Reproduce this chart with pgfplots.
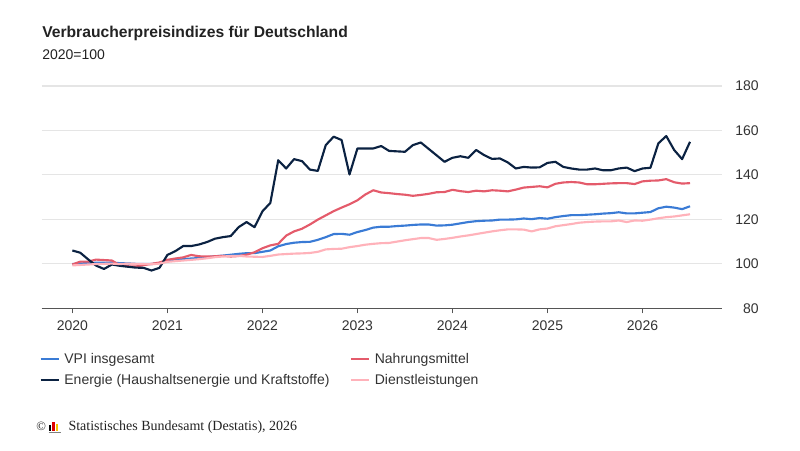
\documentclass[border=0pt]{standalone}
\usepackage{pgfplots}
\pgfplotsset{compat=1.18}
\usepackage{fontspec}
\setmainfont{Liberation Sans}
\newfontfamily\seriffont{Liberation Serif}
\definecolor{vpiblue}{HTML}{3A7BD5}
\definecolor{navy}{HTML}{0B2242}
\definecolor{foodred}{HTML}{E45B6B}
\definecolor{servpink}{HTML}{FFB2BA}
\definecolor{axisgray}{HTML}{555555}
\definecolor{gridgray}{HTML}{E5E5E5}
\definecolor{textdark}{HTML}{222222}
\definecolor{ticktext}{HTML}{333333}
\definecolor{logored}{HTML}{DD0000}
\definecolor{logoyellow}{HTML}{F5C400}
\newcommand\logo{\mbox{\rlap{\textcolor{gray}{\rule[-1.2pt]{9pt}{0.7pt}}}\textcolor{black}{\rule{1.6pt}{4.2pt}}\hspace{1.3pt}\textcolor{logored}{\rule{1.6pt}{6.8pt}}\hspace{1.3pt}\textcolor{logoyellow}{\rule{1.6pt}{5.6pt}}\hspace{1.6pt}}}
\begin{document}
\begin{tikzpicture}
\path[use as bounding box] (0,0) rectangle (600pt,337.5pt);
\node[anchor=base west, inner sep=0pt, text=textdark, font=\fontsize{11.75}{14}\selectfont\bfseries] at (31.5pt,309.2pt) {Verbraucherpreisindizes für Deutschland};
\node[anchor=base west, inner sep=0pt, text=textdark, font=\fontsize{10.5}{12}\selectfont] at (31.5pt,293pt) {2020=100};
\begin{axis}[
  at={(31.275pt,106.275pt)}, anchor=south west,
  scale only axis, width=510pt, height=166.725pt,
  xmin=-3.87, xmax=82.0, ymin=80, ymax=180,
  axis x line*=bottom, axis y line*=right,
  axis line style={-},
  x axis line style={draw=axisgray, line width=0.9pt},
  y axis line style={draw=none},
  xtick={0,12,24,36,48,60,72},
  xticklabels={2020,2021,2022,2023,2024,2025,2026},
  ytick={80,100,120,140,160,180},
  tick align=outside,
  major tick length=3.75pt,
  xtick style={draw=axisgray, line width=0.75pt},
  ytick style={draw=none},
  ymajorgrids, grid style={draw=gridgray, line width=0.8pt},
  ticklabel style={font=\fontsize{10.5}{12}\selectfont, text=ticktext},
  /pgf/number format/assume math mode=true,
  yticklabel style={anchor=east, inner sep=0pt, xshift=24.2pt},
  xticklabel style={inner sep=0pt, yshift=-5pt},
  legend columns=2,
  legend cell align=left,
  legend style={at={(axis description cs:-0.0035,-0.194)}, anchor=north west,
    draw=none, fill=none, inner sep=0pt, outer sep=0pt,
    font=\fontsize{10.5}{12}\selectfont, text=ticktext,
    nodes={inner sep=0pt, text height=9pt, text depth=2pt},
    row sep=4.75pt,
    /tikz/every odd column/.append style={column sep=3.2pt},
    /tikz/every even column/.append style={column sep=15.2pt}},
  legend image code/.code={\draw[#1, line width=1.8pt] (0pt,0pt) -- (13.8pt,0pt);},
  every axis plot/.append style={line width=1.6pt, line join=round, no markers},
]
\addplot[vpiblue] coordinates {
(0,99.9)(1,100.2)(2,100.3)(3,100.5)(4,100.5)(5,100.6)(6,100.3)(7,100.2)(8,100.0)(9,100.0)(10,99.9)(11,100.4)
(12,101.3)(13,101.7)(14,102.1)(15,102.4)(16,102.6)(17,103.0)(18,103.4)(19,103.7)(20,104.1)(21,104.5)(22,104.8)(23,104.8)
(24,105.4)(25,106.0)(26,107.9)(27,108.9)(28,109.5)(29,109.8)(30,109.9)(31,110.8)(32,112.0)(33,113.4)(34,113.5)(35,113.1)
(36,114.3)(37,115.2)(38,116.3)(39,116.7)(40,116.7)(41,117.0)(42,117.2)(43,117.5)(44,117.7)(45,117.7)(46,117.2)(47,117.3)
(48,117.6)(49,118.2)(50,118.8)(51,119.2)(52,119.4)(53,119.5)(54,119.9)(55,119.9)(56,120.0)(57,120.4)(58,120.1)(59,120.6)
(60,120.3)(61,121.0)(62,121.5)(63,121.9)(64,121.9)(65,122.1)(66,122.3)(67,122.6)(68,122.8)(69,123.2)(70,122.7)(71,122.7)
(72,123.0)(73,123.3)(74,125.0)(75,125.7)(76,125.3)(77,124.6)(78,125.9)
};
\addlegendentry{VPI insgesamt}
\addplot[foodred] coordinates {
(0,99.7)(1,101.0)(2,101.0)(3,101.9)(4,101.7)(5,101.5)(6,99.3)(7,98.9)(8,98.8)(9,99.4)(10,100.0)(11,100.6)
(12,101.8)(13,102.4)(14,102.9)(15,104.0)(16,103.4)(17,103.3)(18,103.4)(19,103.6)(20,103.3)(21,103.5)(22,104.1)(23,105.2)
(24,107.0)(25,108.3)(26,109.0)(27,112.7)(28,114.6)(29,115.8)(30,117.7)(31,119.9)(32,121.8)(33,123.7)(34,125.3)(35,126.8)
(36,128.6)(37,131.2)(38,133.1)(39,132.1)(40,131.8)(41,131.4)(42,131.1)(43,130.6)(44,131.0)(45,131.5)(46,132.2)(47,132.3)
(48,133.3)(49,132.7)(50,132.3)(51,132.9)(52,132.6)(53,133.1)(54,132.9)(55,132.6)(56,133.4)(57,134.3)(58,134.6)(59,134.9)
(60,134.4)(61,136.0)(62,136.6)(63,136.8)(64,136.6)(65,135.8)(66,135.8)(67,136.0)(68,136.2)(69,136.3)(70,136.3)(71,135.9)
(72,137.1)(73,137.4)(74,137.5)(75,138.1)(76,136.7)(77,136.1)(78,136.3)
};
\addlegendentry{Nahrungsmittel}
\addplot[navy] coordinates {
(0,106.0)(1,105.0)(2,102.0)(3,99.2)(4,97.7)(5,99.7)(6,99.1)(7,98.7)(8,98.3)(9,98.2)(10,97.0)(11,98.2)
(12,104.0)(13,105.7)(14,108.0)(15,108.0)(16,108.7)(17,109.8)(18,111.3)(19,112.0)(20,112.5)(21,116.5)(22,118.8)(23,116.5)
(24,123.6)(25,127.4)(26,146.6)(27,142.9)(28,147.1)(29,146.2)(30,142.4)(31,141.8)(32,153.4)(33,157.2)(34,155.7)(35,140.2)
(36,151.9)(37,151.9)(38,151.9)(39,153.0)(40,150.8)(41,150.6)(42,150.4)(43,153.4)(44,154.6)(45,151.7)(46,148.8)(47,145.9)
(48,147.7)(49,148.4)(50,147.7)(51,151.2)(52,148.9)(53,147.2)(54,147.4)(55,145.6)(56,142.9)(57,143.6)(58,143.3)(59,143.4)
(60,145.4)(61,145.9)(62,143.6)(63,142.9)(64,142.4)(65,142.4)(66,142.9)(67,142.1)(68,142.1)(69,142.9)(70,143.3)(71,141.7)
(72,142.9)(73,143.2)(74,154.2)(75,157.5)(76,151.2)(77,147.1)(78,154.9)
};
\addlegendentry{Energie (Haushaltsenergie und Kraftstoffe)}
\addplot[servpink] coordinates {
(0,99.3)(1,99.5)(2,99.7)(3,99.9)(4,100.0)(5,100.1)(6,99.9)(7,100.1)(8,100.0)(9,99.9)(10,99.8)(11,100.1)
(12,100.9)(13,101.2)(14,101.5)(15,101.8)(16,102.1)(17,102.5)(18,103.0)(19,103.3)(20,103.5)(21,103.6)(22,103.3)(23,103.2)
(24,103.1)(25,103.6)(26,104.2)(27,104.4)(28,104.6)(29,104.7)(30,104.9)(31,105.4)(32,106.5)(33,106.7)(34,106.8)(35,107.5)
(36,108.0)(37,108.6)(38,109.0)(39,109.3)(40,109.4)(41,110.0)(42,110.6)(43,111.1)(44,111.6)(45,111.6)(46,110.8)(47,111.2)
(48,111.7)(49,112.3)(50,112.8)(51,113.4)(52,114.0)(53,114.6)(54,115.1)(55,115.5)(56,115.5)(57,115.4)(58,114.6)(59,115.5)
(60,115.9)(61,116.9)(62,117.4)(63,117.9)(64,118.5)(65,118.8)(66,119.0)(67,119.1)(68,119.1)(69,119.5)(70,118.8)(71,119.5)
(72,119.4)(73,119.9)(74,120.5)(75,121.0)(76,121.3)(77,121.8)(78,122.3)
};
\addlegendentry{Dienstleistungen}
\end{axis}
\node[anchor=base west, inner sep=0pt, text=textdark, font=\seriffont\fontsize{10.5}{12}\selectfont] at (27pt,14.25pt) {{\fontsize{9.5}{10}\selectfont ©}\hspace{2pt}\logo\hspace{6pt}Statistisches Bundesamt (Destatis), 2026};
\end{tikzpicture}
\end{document}
